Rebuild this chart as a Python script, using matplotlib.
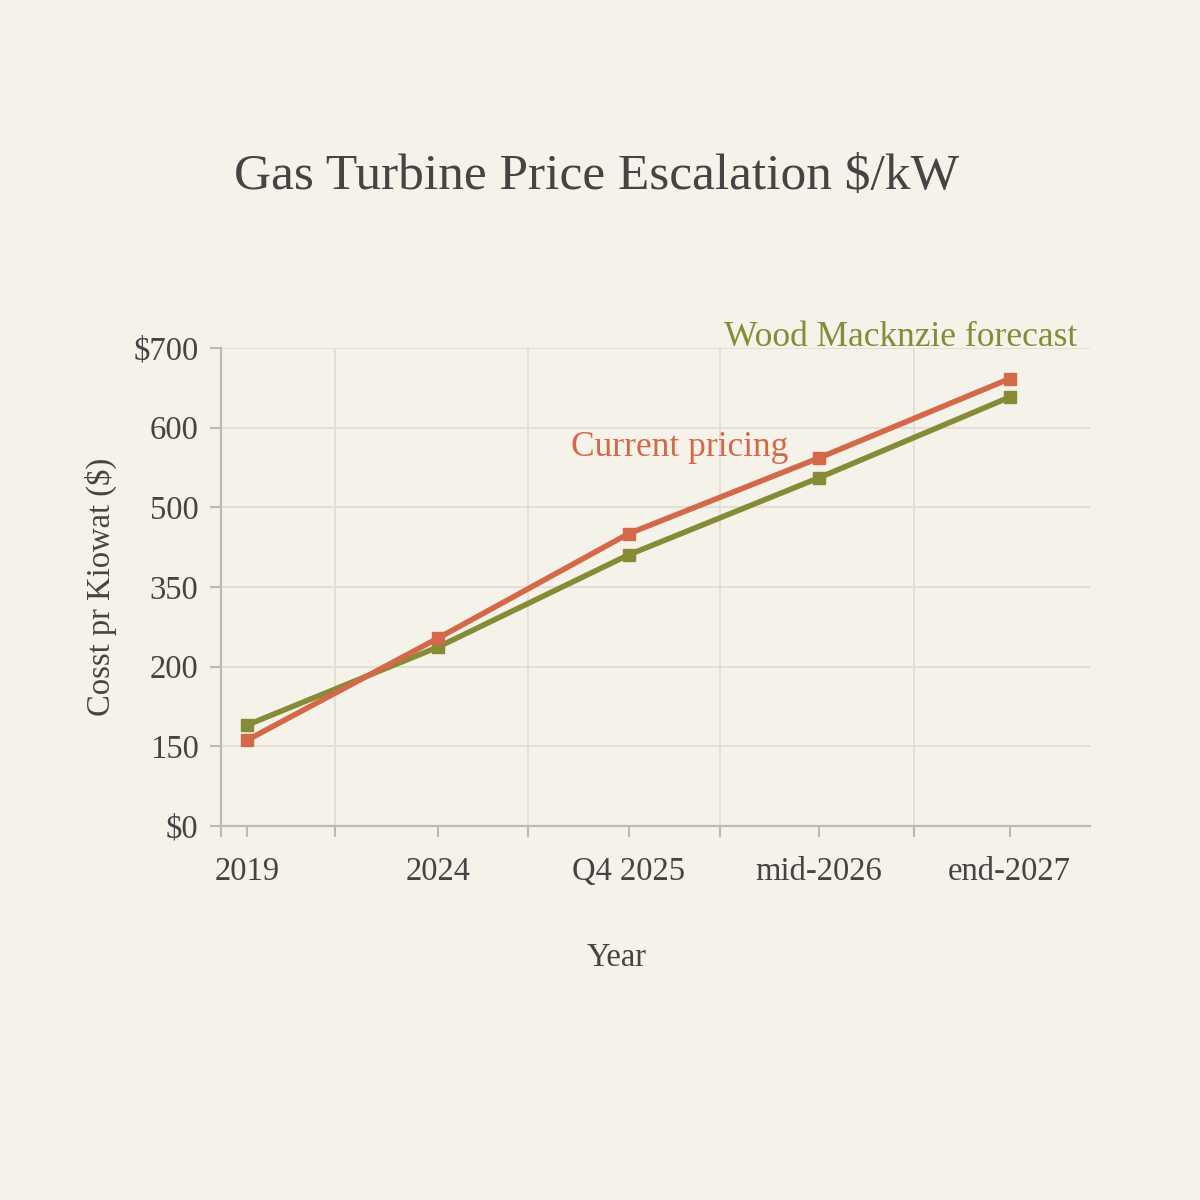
import matplotlib.pyplot as plt
from matplotlib.ticker import FixedLocator

years = ["2019", "2024", "Q4 2025", "mid-2026", "end-2027"]
current_pricing = [126, 275, 428, 539, 655]
wood_mackenzie = [148, 262, 397, 510, 628]

# tick labels as printed on the chart (evenly spaced positions)
ytick_labels = ["$0", "150", "200", "350", "500", "600", "$700"]

BG = "#F5F2EA"
RED = "#D4694A"
GREEN = "#878A36"
TEXT = "#444444"
GRID = "#E2DED6"
SPINE = "#BDBAB4"


def main():
    plt.rcParams["font.family"] = ["Liberation Serif", "DejaVu Serif"]

    fig = plt.figure(figsize=(12, 12), dpi=100, facecolor=BG)
    ax = fig.add_axes([0.184, 0.3117, 0.724, 0.3983], facecolor=BG)

    x = list(range(len(years)))
    ax.plot(x, wood_mackenzie, color=GREEN, lw=4, marker="s", ms=9,
            solid_joinstyle="miter", zorder=3)
    ax.plot(x, current_pricing, color=RED, lw=4, marker="s", ms=9,
            solid_joinstyle="miter", zorder=4)

    ax.set_xlim(-0.14, 4.42)
    ax.set_ylim(0, 700)

    yt = [700 / 6 * i for i in range(7)]
    ax.set_yticks(yt)
    ax.set_yticklabels(ytick_labels)
    ax.set_xticks(x)
    ax.set_xticklabels(years)
    ax.xaxis.set_minor_locator(FixedLocator([-0.14, 0.46, 1.47, 2.48, 3.5]))

    ax.grid(axis="y", color=GRID, lw=1.3)
    ax.grid(axis="x", which="minor", color=GRID, lw=1.3)
    ax.set_axisbelow(True)

    for s in ["top", "right"]:
        ax.spines[s].set_visible(False)
    for s in ["left", "bottom"]:
        ax.spines[s].set_color(SPINE)
        ax.spines[s].set_linewidth(1.6)

    ax.tick_params(axis="y", length=8, width=1.5, color=SPINE, pad=8,
                   labelsize=23.5, labelcolor=TEXT)
    ax.tick_params(axis="x", which="both", length=8, width=1.5, color=SPINE,
                   pad=14, labelsize=23.5, labelcolor=TEXT)

    ax.set_xlabel("Year", fontsize=23.5, color=TEXT)
    ax.xaxis.set_label_coords(0.456, -0.243)
    ax.set_ylabel("Cosst pr Kiowat ($)", fontsize=23.5, color=TEXT,
                  labelpad=12)

    ax.text(2.27, 555, "Current pricing", color=RED, fontsize=25.5,
            ha="center", va="center")
    ax.text(3.43, 715, "Wood Macknzie forecast", color=GREEN, fontsize=25.5,
            ha="center", va="center", clip_on=False)

    fig.text(0.497, 0.853, "Gas Turbine Price Escalation $/kW", fontsize=37,
             color=TEXT, ha="center", va="center")

    fig.savefig("out.png", dpi=100, facecolor=BG)


if __name__ == "__main__":
    main()
